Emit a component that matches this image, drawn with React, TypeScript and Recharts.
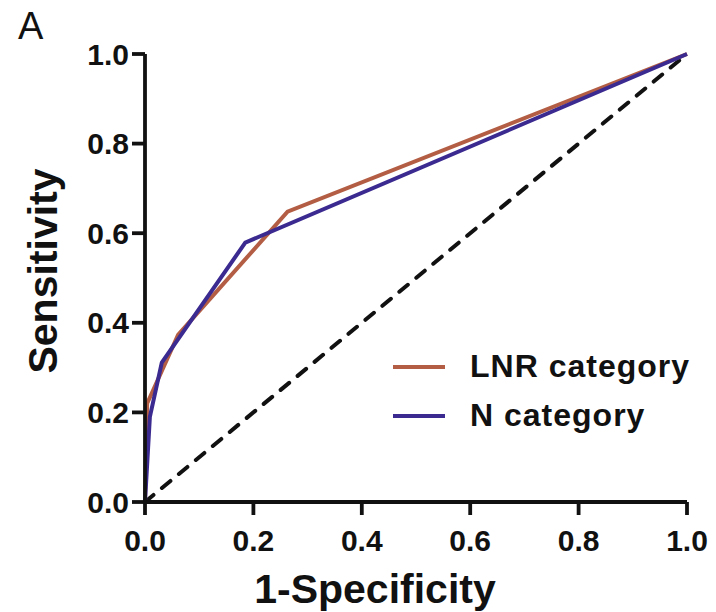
import React from 'react';
import { LineChart, Line, XAxis, YAxis } from 'recharts';

const xTicks = [0, 0.2, 0.4, 0.6, 0.8, 1.0];
const yTicks = [0, 0.2, 0.4, 0.6, 0.8, 1.0];

const lnrX = [0, 0.004, 0.061, 0.263, 1];
const lnrY = [0, 0.22, 0.373, 0.648, 1];
const nX = [0, 0.009, 0.031, 0.185, 1];
const nY = [0, 0.19, 0.311, 0.579, 1];
const refX = [0, 1];
const refY = [0, 1];

const seriesNames = ['LNR category', 'N category'];
const colors = ['#B35E44', '#3B2A90'];

const toPts = (xs: number[], ys: number[]) => xs.map((x, i) => ({ x, y: ys[i] }));
const lnrData = toPts(lnrX, lnrY);
const nData = toPts(nX, nY);
const refData = toPts(refX, refY);

const FONT = '"Liberation Sans", Arial, sans-serif';

const XTitle = (props: any) => {
  const vb = props.viewBox || {};
  const cx = vb.x + vb.width / 2 - 41;
  const y = vb.y + 101;
  return (
    <text x={cx} y={y} textAnchor="middle" fill="#111" fontSize={41} fontWeight="bold" fontFamily={FONT}>
      1-Specificity
    </text>
  );
};

export default function App() {
  return (
    <div style={{ position: 'absolute', left: 0, top: 0, width: 716, height: 612, background: '#fff' }}>
      <div style={{ position: 'absolute', left: 18, top: 2, fontFamily: FONT, fontSize: 38, lineHeight: '48px', color: '#111' }}>A</div>
      <LineChart width={716} height={612} margin={{ top: 54, right: 29, bottom: 0, left: 0 }}>
        <XAxis
          type="number"
          dataKey="x"
          domain={[0, 1]}
          ticks={xTicks}
          tickFormatter={(v: number) => v.toFixed(1)}
          height={110}
          axisLine={{ stroke: '#111', strokeWidth: 3.8 }}
          tickLine={{ stroke: '#111', strokeWidth: 3.8 }}
          tickSize={13}
          tickMargin={15}
          tick={{ fill: '#111', fontSize: 30, fontWeight: 'bold', fontFamily: FONT }}
          label={<XTitle />}
        />
        <YAxis
          type="number"
          dataKey="y"
          domain={[0, 1]}
          ticks={yTicks}
          tickFormatter={(v: number) => v.toFixed(1)}
          width={145}
          axisLine={{ stroke: '#111', strokeWidth: 3.8 }}
          tickLine={{ stroke: '#111', strokeWidth: 3.8 }}
          tickSize={13}
          tickMargin={3}
          tick={{ fill: '#111', fontSize: 30, fontWeight: 'bold', fontFamily: FONT }}
          label={{ value: 'Sensitivity', angle: -90, position: 'insideLeft', offset: 42, dy: -7, fill: '#111', fontSize: 41, fontWeight: 'bold', fontFamily: FONT, style: { textAnchor: 'middle' } }}
        />
        <Line data={refData} dataKey="y" type="linear" stroke="#111" strokeWidth={4} strokeDasharray="11 11" strokeLinecap="round" dot={false} isAnimationActive={false} legendType="none" />
        <Line data={lnrData} dataKey="y" name={seriesNames[0]} type="linear" stroke={colors[0]} strokeWidth={4} dot={false} isAnimationActive={false} />
        <Line data={nData} dataKey="y" name={seriesNames[1]} type="linear" stroke={colors[1]} strokeWidth={4} dot={false} isAnimationActive={false} />
      </LineChart>
      <div style={{ position: 'absolute', left: 393, top: 342, fontFamily: FONT }}>
        {seriesNames.map((name, i) => (
          <div key={name} style={{ display: 'flex', alignItems: 'center', height: 49 }}>
            <div style={{ width: 52, height: 4, background: colors[i], marginRight: 25 }} />
            <span style={{ fontSize: 32, fontWeight: 'bold', color: '#111', letterSpacing: 1, whiteSpace: 'nowrap' }}>{name}</span>
          </div>
        ))}
      </div>
    </div>
  );
}
